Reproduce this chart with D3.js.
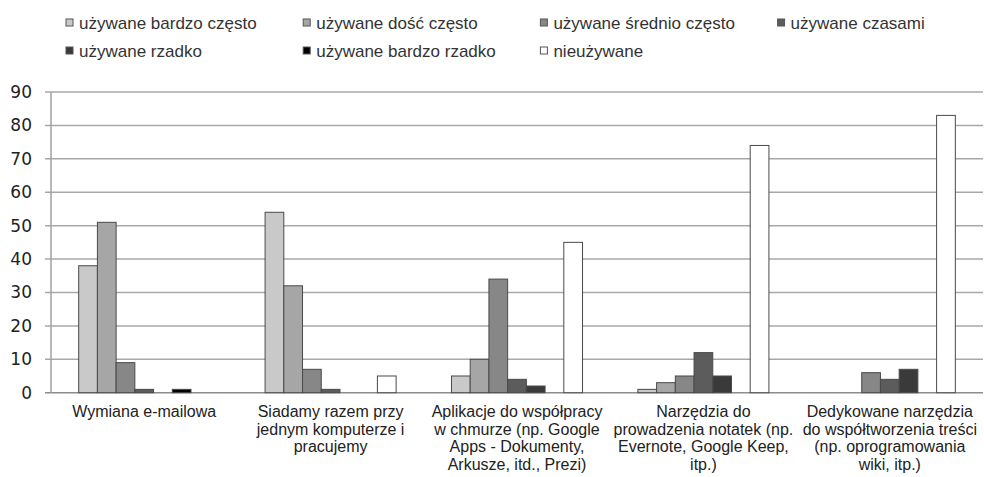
<!DOCTYPE html>
<html>
<head>
<meta charset="utf-8">
<script src="https://cdn.jsdelivr.net/npm/d3@7/dist/d3.min.js"></script>
<style>
  html, body { margin: 0; padding: 0; background: #fff; }
  svg { display: block; }
</style>
</head>
<body>
<svg id="chart" width="984" height="477"></svg>
<script>
// ---- data ----
const categories = [
  "Wymiana e-mailowa",
  "Siadamy razem przy jednym komputerze i pracujemy",
  "Aplikacje do współpracy w chmurze (np. Google Apps - Dokumenty, Arkusze, itd., Prezi)",
  "Narzędzia do prowadzenia notatek (np. Evernote, Google Keep, itp.)",
  "Dedykowane narzędzia do współtworzenia treści (np. oprogramowania wiki, itp.)"
];
const categoryLines = [
  ["Wymiana e-mailowa"],
  ["Siadamy razem przy", "jednym komputerze i", "pracujemy"],
  ["Aplikacje do współpracy", "w chmurze (np. Google", "Apps - Dokumenty,", "Arkusze, itd., Prezi)"],
  ["Narzędzia do", "prowadzenia notatek (np.", "Evernote, Google Keep,", "itp.)"],
  ["Dedykowane narzędzia", "do współtworzenia treści", "(np. oprogramowania", "wiki, itp.)"]
];
const seriesNames = [
  "używane bardzo często",
  "używane dość często",
  "używane średnio często",
  "używane czasami",
  "używane rzadko",
  "używane bardzo rzadko",
  "nieużywane"
];
// values per series, one per category
const bardzoCzesto  = [38, 54, 5, 1, 0];
const doscCzesto    = [51, 32, 10, 3, 0];
const srednioCzesto = [9, 7, 34, 5, 6];
const czasami       = [1, 1, 4, 12, 4];
const rzadko        = [0, 0, 2, 5, 7];
const bardzoRzadko  = [1, 0, 0, 0, 0];
const nieuzywane    = [0, 5, 45, 74, 83];
const seriesValues = [bardzoCzesto, doscCzesto, srednioCzesto, czasami, rzadko, bardzoRzadko, nieuzywane];
const yTicks = [0, 10, 20, 30, 40, 50, 60, 70, 80, 90];

const seriesColors = ["#c9c9c9", "#a6a6a6", "#878787", "#5c5c5c", "#3a3a3a", "#000000", "#ffffff"];

// ---- layout ----
const svg = d3.select("#chart");
const plotLeft = 51, plotRight = 983, plotTop = 92, plotBottom = 392.7;

const x0 = d3.scaleBand().domain(categories).range([plotLeft, plotRight])
  .paddingInner(0.297).paddingOuter(0.1485);
const x1 = d3.scaleBand().domain(seriesNames).range([0, x0.bandwidth()]).padding(0);
const y = d3.scaleLinear().domain([0, 90]).range([plotBottom, plotTop]);

// gridlines
svg.append("g").selectAll("line").data(yTicks).join("line")
  .attr("x1", plotLeft - 6).attr("x2", plotRight)
  .attr("y1", d => y(d)).attr("y2", d => y(d))
  .attr("stroke", d => d === 0 ? "#8c8c8c" : "#a8a8a8")
  .attr("stroke-width", 1.5);

// y axis line
svg.append("line")
  .attr("x1", plotLeft).attr("x2", plotLeft).attr("y1", y(90)).attr("y2", y(0))
  .attr("stroke", "#a0a0a0").attr("stroke-width", 1.5);

// y tick labels via axis
const yAxis = d3.axisLeft(y).tickValues(yTicks).tickSize(0).tickPadding(0);
const yg = svg.append("g").attr("transform", `translate(${plotLeft - 19},0)`).call(yAxis);
yg.select(".domain").remove();
yg.selectAll("text")
  .attr("font-family", "'DejaVu Sans', sans-serif")
  .attr("font-size", 17)
  .attr("fill", "#222");

// bars
const groups = svg.append("g").selectAll("g").data(categories).join("g")
  .attr("transform", d => `translate(${x0(d)},0)`);
groups.selectAll("rect")
  .data((c, ci) => seriesNames.map((s, si) => ({ s, si, v: seriesValues[si][ci] })).filter(d => d.v > 0))
  .join("rect")
  .attr("x", d => x1(d.s))
  .attr("width", x1.bandwidth())
  .attr("y", d => y(d.v))
  .attr("height", d => y(0) - y(d.v))
  .attr("fill", d => seriesColors[d.si])
  .attr("stroke", "#4a4a4a")
  .attr("stroke-width", 1);

// x labels
const xl = svg.append("g").selectAll("text").data(categories).join("text")
  .attr("text-anchor", "middle")
  .attr("font-family", "'Liberation Sans', Arial, sans-serif")
  .attr("font-size", 16)
  .attr("fill", "#222")
  .attr("transform", d => `translate(${x0(d) + x0.bandwidth() / 2},417)`);
xl.each(function(d, i) {
  d3.select(this).selectAll("tspan").data(categoryLines[i]).join("tspan")
    .attr("x", 0).attr("dy", (t, j) => j === 0 ? 0 : 17.7)
    .text(t => t);
});

// legend
const legend = svg.append("g").selectAll("g").data(seriesNames).join("g")
  .attr("transform", (d, i) => `translate(${66 + (i % 4) * 237.2},${i < 4 ? 22.5 : 50.5})`);
legend.append("rect")
  .attr("x", 0).attr("y", -3.5).attr("width", 7).attr("height", 7)
  .attr("fill", (d, i) => seriesColors[i])
  .attr("stroke", "#555").attr("stroke-width", 1);
legend.append("text")
  .attr("x", 13).attr("y", 6)
  .attr("font-family", "'Liberation Sans', Arial, sans-serif")
  .attr("font-size", 17)
  .attr("fill", "#333")
  .text(d => d);
</script>
</body>
</html>
